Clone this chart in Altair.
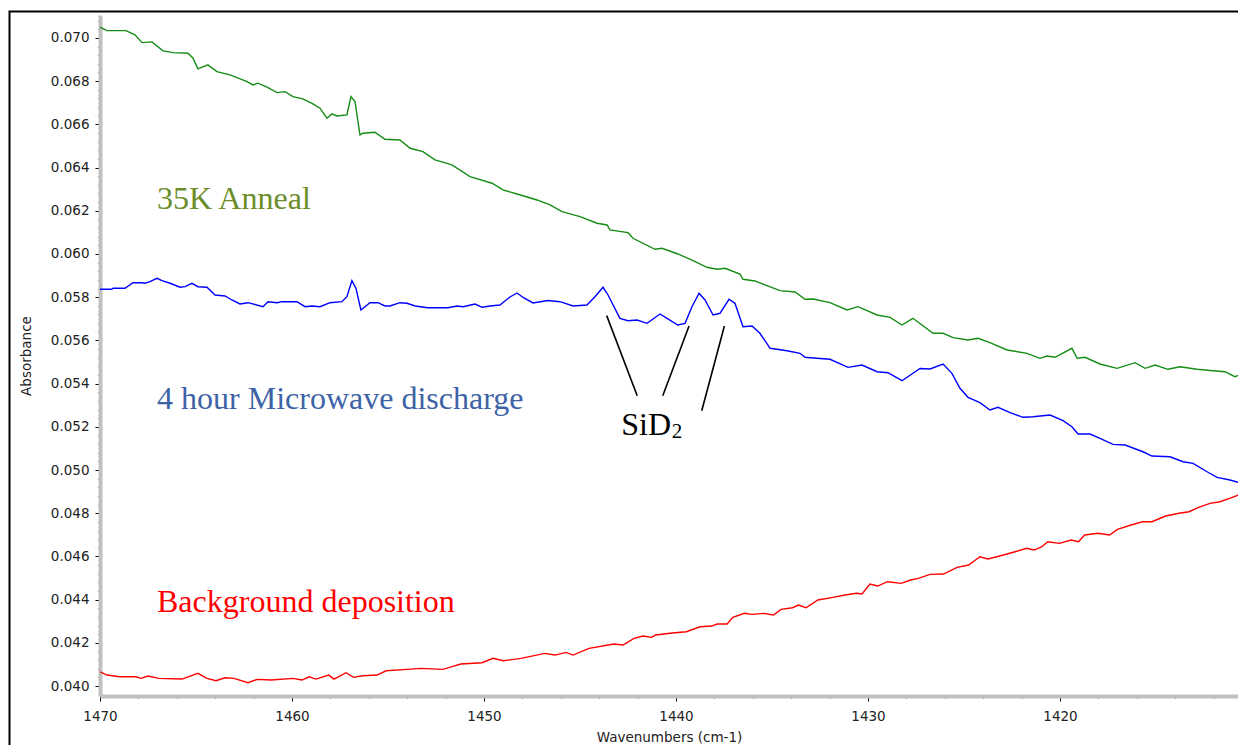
import altair as alt
import pandas as pd

# ---------------- data ----------------
series_names = ["35K Anneal", "4 hour Microwave discharge", "Background deposition"]
series_colors = ["#158c15", "#0000ff", "#ff0000"]

green_x = [1470.00, 1469.64, 1468.65, 1468.18, 1467.81, 1467.29, 1466.72, 1466.20, 1465.42, 1465.16,
           1464.90, 1464.38, 1463.91, 1463.23, 1462.34, 1462.03, 1461.77, 1461.30, 1460.78, 1460.36,
           1459.95, 1459.43, 1458.91, 1458.54, 1458.18, 1457.92, 1457.66, 1457.14, 1456.93, 1456.72,
           1456.46, 1456.30, 1455.68, 1455.16, 1454.38, 1453.85, 1453.18, 1452.55, 1451.67, 1450.73,
           1449.58, 1449.01, 1448.28, 1447.24, 1446.56, 1445.94, 1445.00, 1444.11, 1443.59, 1443.44,
           1442.50, 1442.24, 1441.09, 1440.73, 1439.90, 1439.11, 1438.39, 1437.86, 1437.45, 1436.67,
           1436.51, 1435.89, 1434.58, 1433.80, 1433.28, 1432.86, 1431.98, 1431.09, 1430.52, 1429.53,
           1428.85, 1428.23, 1427.66, 1426.61, 1426.09, 1425.57, 1424.79, 1424.27, 1423.65, 1422.76,
           1421.72, 1421.04, 1420.68, 1420.26, 1419.38, 1419.11, 1418.70, 1417.92, 1417.03, 1416.09,
           1415.57, 1415.05, 1414.38, 1413.75, 1412.86, 1412.03, 1411.41, 1410.89, 1410.36]
green_y = [0.070495, 0.070338, 0.070338, 0.070139, 0.069782, 0.069815, 0.069398, 0.069319, 0.069292, 0.069074,
           0.068565, 0.068750, 0.068440, 0.068287, 0.067977, 0.067824, 0.067903, 0.067717, 0.067467, 0.067514,
           0.067282, 0.067176, 0.066944, 0.066745, 0.066282, 0.066481, 0.066389, 0.066435, 0.067282, 0.067051,
           0.065509, 0.065588, 0.065634, 0.065310, 0.065277, 0.064893, 0.064736, 0.064351, 0.064120, 0.063578,
           0.063273, 0.062962, 0.062777, 0.062499, 0.062268, 0.061958, 0.061726, 0.061420, 0.061342, 0.061110,
           0.060985, 0.060726, 0.060217, 0.060263, 0.059999, 0.059689, 0.059383, 0.059291, 0.059337, 0.059073,
           0.058828, 0.058750, 0.058300, 0.058240, 0.057902, 0.057916, 0.057745, 0.057406, 0.057559, 0.057175,
           0.057068, 0.056712, 0.057022, 0.056328, 0.056328, 0.056124, 0.056017, 0.056096, 0.055893, 0.055554,
           0.055401, 0.055170, 0.055274, 0.055217, 0.055633, 0.055170, 0.055217, 0.054906, 0.054707, 0.054967,
           0.054707, 0.054860, 0.054661, 0.054781, 0.054661, 0.054596, 0.054550, 0.054318, 0.054503]

blue_x = [1470.00, 1469.39, 1469.32, 1468.70, 1468.28, 1467.81, 1467.66, 1467.40, 1467.03, 1466.77,
          1466.35, 1465.83, 1465.57, 1465.21, 1464.90, 1464.43, 1464.01, 1463.49, 1463.13, 1462.71,
          1462.29, 1461.51, 1461.25, 1460.78, 1460.52, 1459.74, 1459.32, 1458.96, 1458.54, 1458.02,
          1457.40, 1457.14, 1456.88, 1456.67, 1456.41, 1455.94, 1455.52, 1455.16, 1454.90, 1454.38,
          1454.01, 1453.59, 1452.92, 1451.88, 1451.41, 1451.09, 1450.47, 1450.10, 1449.69, 1449.17,
          1448.65, 1448.28, 1447.92, 1447.45, 1446.67, 1446.04, 1445.36, 1444.64, 1444.22, 1443.80,
          1443.54, 1442.92, 1442.50, 1442.03, 1441.51, 1440.83, 1440.47, 1439.90, 1439.53, 1439.17,
          1438.80, 1438.49, 1438.07, 1437.71, 1437.24, 1436.93, 1436.51, 1436.04, 1435.63, 1435.10,
          1434.22, 1433.54, 1433.28, 1432.66, 1431.98, 1431.04, 1430.31, 1429.53, 1428.96, 1428.23,
          1427.29, 1426.77, 1426.09, 1425.63, 1425.21, 1424.79, 1424.17, 1423.65, 1423.23, 1422.60,
          1421.93, 1421.41, 1420.52, 1419.84, 1419.38, 1419.06, 1418.44, 1417.92, 1417.24, 1416.61,
          1415.68, 1415.21, 1414.27, 1413.59, 1413.07, 1412.34, 1411.82, 1411.15, 1410.63, 1410.31]
blue_y = [0.058365, 0.058365, 0.058411, 0.058411, 0.058670, 0.058670, 0.058643, 0.058717, 0.058874, 0.058763,
          0.058643, 0.058458, 0.058485, 0.058643, 0.058485, 0.058458, 0.058101, 0.058055, 0.057869, 0.057684,
          0.057744, 0.057559, 0.057791, 0.057744, 0.057791, 0.057791, 0.057559, 0.057592, 0.057559, 0.057744,
          0.057791, 0.058022, 0.058763, 0.058411, 0.057406, 0.057744, 0.057744, 0.057592, 0.057592, 0.057744,
          0.057716, 0.057592, 0.057513, 0.057513, 0.057592, 0.057559, 0.057684, 0.057532, 0.057592, 0.057638,
          0.058009, 0.058194, 0.057962, 0.057731, 0.057846, 0.057791, 0.057592, 0.057638, 0.058022, 0.058458,
          0.058101, 0.057022, 0.056911, 0.056943, 0.056790, 0.057221, 0.057022, 0.056712, 0.056790, 0.057559,
          0.058180, 0.057869, 0.057175, 0.057254, 0.057902, 0.057716, 0.056633, 0.056666, 0.056328, 0.055633,
          0.055522, 0.055402, 0.055217, 0.055170, 0.055124, 0.054753, 0.054860, 0.054550, 0.054504, 0.054133,
          0.054698, 0.054675, 0.054906, 0.054476, 0.053781, 0.053365, 0.053115, 0.052776, 0.052901, 0.052652,
          0.052439, 0.052466, 0.052545, 0.052281, 0.052003, 0.051665, 0.051665, 0.051466, 0.051188, 0.051156,
          0.050845, 0.050647, 0.050614, 0.050383, 0.050309, 0.049920, 0.049660, 0.049535, 0.049410, 0.049410]

red_x = [1470.00, 1469.64, 1468.98, 1468.14, 1467.86, 1467.50, 1466.93, 1465.73, 1464.90, 1464.43,
         1463.96, 1463.49, 1463.02, 1462.29, 1461.82, 1461.09, 1459.95, 1459.48, 1459.11, 1458.75,
         1458.09, 1457.81, 1457.19, 1456.79, 1456.33, 1455.57, 1455.10, 1454.01, 1453.28, 1452.14,
         1451.58, 1451.21, 1450.10, 1449.53, 1448.98, 1448.07, 1446.84, 1446.30, 1445.73, 1445.36,
         1444.53, 1443.23, 1442.76, 1442.19, 1441.72, 1441.27, 1441.07, 1440.06, 1439.46, 1438.75,
         1438.15, 1437.85, 1437.34, 1437.04, 1436.44, 1436.04, 1435.43, 1434.93, 1434.53, 1433.93,
         1433.62, 1433.23, 1432.61, 1431.82, 1431.20, 1430.60, 1430.31, 1429.90, 1429.49, 1428.99,
         1428.28, 1427.78, 1427.38, 1426.77, 1426.07, 1425.36, 1424.76, 1424.17, 1423.75, 1422.95,
         1422.34, 1421.74, 1421.35, 1420.94, 1420.64, 1420.03, 1419.43, 1419.03, 1418.72, 1418.02,
         1417.42, 1417.01, 1416.30, 1415.70, 1415.21, 1414.50, 1413.80, 1413.28, 1412.78, 1412.19,
         1411.67, 1411.17, 1410.68, 1410.31]
red_y = [0.040662, 0.040509, 0.040431, 0.040431, 0.040357, 0.040463, 0.040357, 0.040324, 0.040588, 0.040357,
         0.040246, 0.040385, 0.040357, 0.040153, 0.040310, 0.040278, 0.040357, 0.040278, 0.040431, 0.040324,
         0.040509, 0.040324, 0.040616, 0.040403, 0.040477, 0.040509, 0.040708, 0.040773, 0.040819, 0.040773,
         0.040926, 0.041019, 0.041079, 0.041283, 0.041171, 0.041283, 0.041514, 0.041435, 0.041560, 0.041435,
         0.041745, 0.041945, 0.041898, 0.042208, 0.042315, 0.042255, 0.042361, 0.042468, 0.042514, 0.042746,
         0.042778, 0.042871, 0.042871, 0.043181, 0.043366, 0.043320, 0.043366, 0.043287, 0.043551, 0.043625,
         0.043750, 0.043625, 0.043982, 0.044107, 0.044213, 0.044292, 0.044259, 0.044722, 0.044630, 0.044829,
         0.044755, 0.044908, 0.044986, 0.045171, 0.045185, 0.045496, 0.045602, 0.045986, 0.045880, 0.046065,
         0.046218, 0.046375, 0.046296, 0.046449, 0.046681, 0.046606, 0.046759, 0.046681, 0.046991, 0.047070,
         0.046991, 0.047255, 0.047454, 0.047607, 0.047607, 0.047870, 0.047996, 0.048070, 0.048273, 0.048458,
         0.048532, 0.048690, 0.048843, 0.048843]

# SiD2 pointer lines (wavenumber / absorbance of both ends)
pointer_x = [1443.61, 1439.32, 1437.48]
pointer_y = [0.057144, 0.056667, 0.056667]
pointer_x2 = [1442.02, 1440.69, 1438.66]
pointer_y2 = [0.053440, 0.053440, 0.052745]

# text labels placed in data coordinates
label_text = ["35K Anneal", "4 hour Microwave discharge", "Background deposition", "SiD", "2"]
label_x = [1467.03, 1467.03, 1467.03, 1442.85, 1440.22]
label_y = [0.062083, 0.052824, 0.043426, 0.051620, 0.051480]
label_color = ["#6b8e2a", "#3d63a6", "#ff0000", "#000000", "#000000"]
label_size = [32, 32, 32, 32, 21]

x_ticks = [1412 + 2 * i for i in range(30)]
y_ticks = [round(0.0400 + 0.0004 * i, 4) for i in range(78)]

# ---------------- chart ----------------
frames = []
for name, xs, ys in [(series_names[0], green_x, green_y),
                     (series_names[1], blue_x, blue_y),
                     (series_names[2], red_x, red_y)]:
    frames.append(pd.DataFrame({"wn": xs, "abs": ys, "series": name}))
lines_df = pd.concat(frames, ignore_index=True)

pointers_df = pd.DataFrame({"wn": pointer_x, "abs": pointer_y, "wn2": pointer_x2, "abs2": pointer_y2})
labels_df = pd.DataFrame({"wn": label_x, "abs": label_y, "text": label_text,
                          "c": label_color, "s": label_size})

x_scale = alt.Scale(domain=[1410.73, 1470], reverse=True, nice=False, zero=False)
y_scale = alt.Scale(domain=[0.03954, 0.07106], nice=False, zero=False)

x_axis = alt.Axis(
    title="Wavenumbers (cm-1)",
    values=x_ticks,
    labelExpr="datum.value % 10 === 0 ? format(datum.value, 'd') : ''",
    tickSize={"condition": {"test": "datum.value % 10 === 0", "value": 5}, "value": 2},
    labelPadding=8,
    titlePadding=8,
    labelFlush=False,
    labelOverlap=False,
)
y_test = "abs(datum.value*500 - round(datum.value*500)) < 0.05"
y_axis = alt.Axis(
    title="Absorbance",
    values=y_ticks,
    labelExpr=y_test + " ? format(datum.value, '.3f') : ''",
    tickSize={"condition": {"test": y_test, "value": 5}, "value": 2},
    labelPadding=6,
    titlePadding=17,
    labelFlush=False,
    labelOverlap=False,
)


def X():
    return alt.X("wn:Q", scale=x_scale, axis=x_axis)


def Y():
    return alt.Y("abs:Q", scale=y_scale, axis=y_axis)


frame = alt.Chart(pd.DataFrame({"a": [0]})).mark_rect(
    fillOpacity=0, stroke="black", strokeWidth=2
).encode(x=alt.value(-90.5), x2=alt.value(1400), y=alt.value(-3.5), y2=alt.value(900))

lines = alt.Chart(lines_df).mark_line(strokeWidth=1.4, clip=True).encode(
    x=X(), y=Y(),
    color=alt.Color("series:N", scale=alt.Scale(domain=series_names, range=series_colors), legend=None),
)

pointers = alt.Chart(pointers_df).mark_rule(color="black", strokeWidth=1.6).encode(
    x=X(), y=Y(), x2="wn2:Q", y2="abs2:Q"
)

labels = alt.Chart(labels_df).mark_text(
    align="left", baseline="alphabetic", font="Liberation Serif"
).encode(
    x=X(), y=Y(), text="text:N",
    color=alt.Color("c:N", scale=None),
    size=alt.Size("s:Q", scale=None),
)

chart = alt.layer(frame, lines, pointers, labels).properties(
    width=1138,
    height=681,
    autosize=alt.AutoSizeParams(type="none"),
    padding={"left": 92, "top": 7, "right": 0, "bottom": 49},
    background="white",
).configure_view(stroke=None).configure_axis(
    grid=False,
    domainColor="#c0c0c0",
    domainWidth=4,
    tickColor="#000000",
    tickWidth=1,
    labelFont="DejaVu Sans",
    labelFontSize=13.5,
    labelColor="#222222",
    titleFont="DejaVu Sans",
    titleFontSize=13.5,
    titleFontWeight="normal",
    titleColor="#222222",
)

chart.save("out.html", embed_options={"renderer": "svg", "actions": False})
